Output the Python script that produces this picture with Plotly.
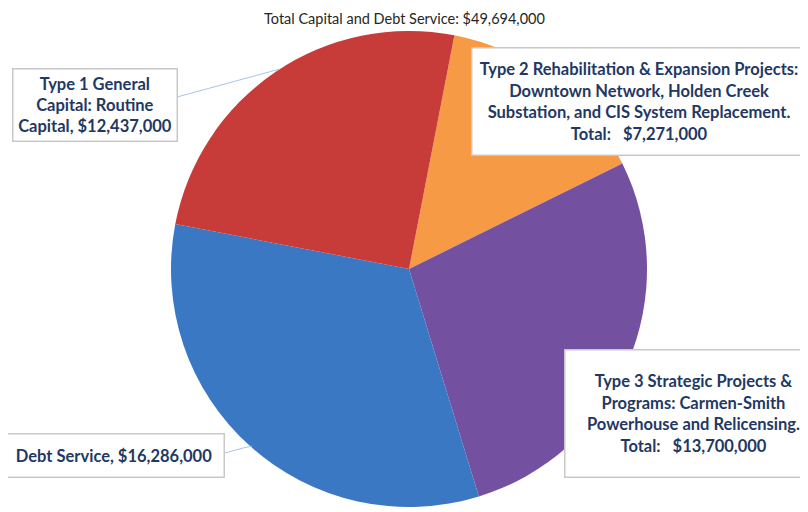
import plotly.graph_objects as go

# The page has an 8px body margin; compensate so the chart lands where the reference has it.
OFF = 8
W, H = 808 - OFF, 512 - OFF

categories = [
    "Type 2 Rehabilitation & Expansion Projects",
    "Type 3 Strategic Projects & Programs",
    "Debt Service",
    "Type 1 General Capital: Routine Capital",
]
values = [7271000, 13700000, 16286000, 12437000]
colors = ["#F79A45", "#7451A0", "#3A78C4", "#C73B38"]

title_text = "Total Capital and Debt Service: $49,694,000"
label_texts = [
    "Type 2 Rehabilitation & Expansion Projects:<br>Downtown Network, Holden Creek<br>Substation, and CIS System Replacement.<br>Total:   $7,271,000",
    "Type 3 Strategic Projects &<br>Programs: Carmen-Smith<br>Powerhouse and Relicensing.<br>Total:   $13,700,000",
    "Debt Service, $16,286,000",
    "Type 1 General<br>Capital: Routine<br>Capital, $12,437,000",
]


def px(x):
    return (x - OFF) / W


def py(y):
    return 1 - (y - OFF) / H


cx, cy, r = 409, 269, 238

fig = go.Figure(
    go.Pie(
        labels=categories,
        values=values,
        sort=False,
        direction="clockwise",
        rotation=11,
        marker=dict(colors=colors, line=dict(width=0)),
        textinfo="none",
        domain=dict(x=[px(cx - r), px(cx + r)], y=[py(cy + r), py(cy - r)]),
        showlegend=False,
    )
)

# label boxes: (center x, center y, width, height) in pixels of the window
boxes = [
    (639, 101, 335, 108),
    (693, 413, 258, 128),
    (113.5, 455, 221, 44),
    (94.5, 105.5, 165, 73),
]
font = dict(family="Lato", size=16.5, color="#1F3864")
annotations = []
for text, (bx, by, bw, bh) in zip(label_texts, boxes):
    annotations.append(
        dict(
            text="<b>" + text + "</b>",
            x=px(bx), y=py(by), xref="paper", yref="paper",
            xanchor="center", yanchor="middle",
            width=bw - 2, height=bh - 2,
            showarrow=False, align="center", valign="middle",
            bgcolor="white", bordercolor="#C8C8C8", borderwidth=1.5, borderpad=0,
            font=font,
        )
    )
annotations.append(
    dict(
        text=title_text, x=px(404), y=py(8), xref="paper", yref="paper",
        xanchor="center", yanchor="top", showarrow=False,
        font=dict(family="Lato", size=14.5, color="#262626"),
    )
)

shapes = [
    dict(type="line", xref="paper", yref="paper",
         x0=px(177), y0=py(97), x1=px(280), y1=py(69),
         line=dict(color="#A9C4E4", width=1)),
    dict(type="line", xref="paper", yref="paper",
         x0=px(225), y0=py(453), x1=px(243), y1=py(448),
         line=dict(color="#A9C4E4", width=1)),
    dict(type="line", xref="paper", yref="paper",
         x0=px(243), y0=py(448), x1=px(252), y1=py(446),
         line=dict(color="#A9C4E4", width=1)),
]

fig.update_layout(
    width=W, height=H,
    margin=dict(l=0, r=0, t=0, b=0),
    paper_bgcolor="white", plot_bgcolor="white",
    annotations=annotations,
    shapes=shapes,
)

fig.write_html("out.html")
